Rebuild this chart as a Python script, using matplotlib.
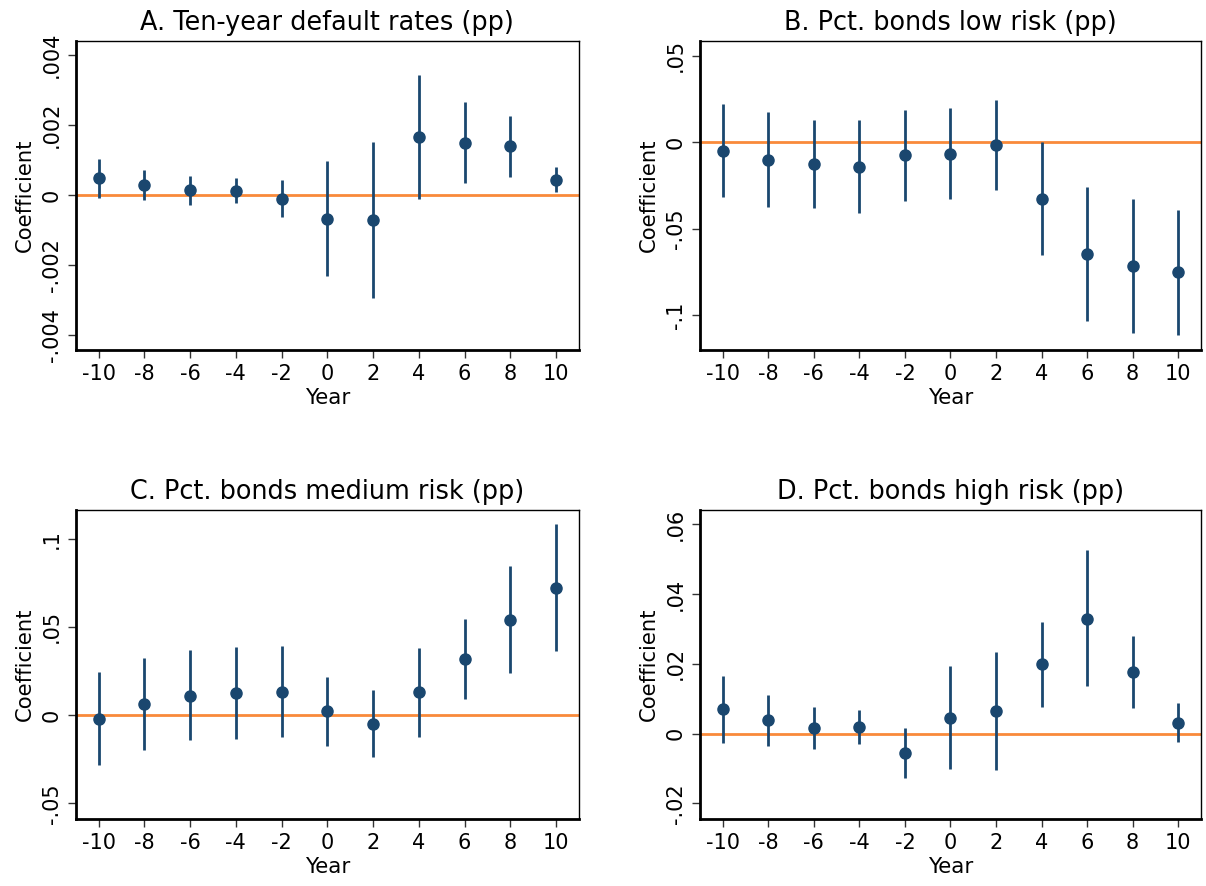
import matplotlib.pyplot as plt

plt.rcParams['font.family'] = ['DejaVu Sans']

annees = [-10, -8, -6, -4, -2, 0, 2, 4, 6, 8, 10]

# A. Ten-year default rates
coef_a = [0.00048, 0.00029, 0.00014, 0.00013, -0.00011, -0.00069, -0.00071, 0.00167, 0.00150, 0.00140, 0.00044]
haut_a = [0.00104, 0.00072, 0.00055, 0.00049, 0.00042, 0.00097, 0.00151, 0.00344, 0.00267, 0.00227, 0.00080]
bas_a = [-0.00007, -0.00014, -0.00028, -0.00022, -0.00064, -0.00232, -0.00295, -0.00011, 0.00034, 0.00053, 0.00010]

# B. low risk
coef_b = [-0.0050, -0.0100, -0.0127, -0.0143, -0.0075, -0.0066, -0.0015, -0.0328, -0.0647, -0.0717, -0.0753]
haut_b = [0.0220, 0.0173, 0.0131, 0.0131, 0.0189, 0.0200, 0.0247, 0.0000, -0.0258, -0.0328, -0.0391]
bas_b = [-0.0318, -0.0374, -0.0383, -0.0412, -0.0339, -0.0331, -0.0277, -0.0655, -0.1035, -0.1104, -0.1114]

# C. medium risk
coef_c = [-0.0019, 0.0062, 0.0111, 0.0124, 0.0134, 0.0021, -0.0049, 0.0130, 0.0316, 0.0539, 0.0723]
haut_c = [0.0245, 0.0326, 0.0367, 0.0386, 0.0394, 0.0217, 0.0143, 0.0379, 0.0542, 0.0842, 0.1081]
bas_c = [-0.0282, -0.0200, -0.0143, -0.0137, -0.0126, -0.0173, -0.0237, -0.0121, 0.0092, 0.0241, 0.0365]

# D. high risk
coef_d = [0.0069, 0.0038, 0.0017, 0.0019, -0.0056, 0.0046, 0.0064, 0.0198, 0.0329, 0.0177, 0.0031]
haut_d = [0.0164, 0.0110, 0.0076, 0.0068, 0.0016, 0.0194, 0.0235, 0.0319, 0.0526, 0.0281, 0.0087]
bas_d = [-0.0027, -0.0036, -0.0044, -0.0031, -0.0128, -0.0103, -0.0105, 0.0077, 0.0135, 0.0073, -0.0025]

titres = ['A. Ten-year default rates (pp)', 'B. Pct. bonds low risk (pp)',
          'C. Pct. bonds medium risk (pp)', 'D. Pct. bonds high risk (pp)']
yticks_a = [-0.004, -0.002, 0, 0.002, 0.004]
ylabels_a = ['-.004', '-.002', '0', '.002', '.004']
yticks_b = [-0.1, -0.05, 0, 0.05]
ylabels_b = ['-.1', '-.05', '0', '.05']
yticks_c = [-0.05, 0, 0.05, 0.1]
ylabels_c = ['-.05', '0', '.05', '.1']
yticks_d = [-0.02, 0, 0.02, 0.04, 0.06]
ylabels_d = ['-.02', '0', '.02', '.04', '.06']

bleu = '#1a476f'
orange = '#f98a3a'

# position des axes (gauche, bas, largeur, hauteur) en fraction de la figure
panneaux = [
    (coef_a, haut_a, bas_a, yticks_a, ylabels_a, (-0.00443, 0.0044), [0.0628, 0.605, 0.4173, 0.3484]),
    (coef_b, haut_b, bas_b, yticks_b, ylabels_b, (-0.1202, 0.0584), [0.5804, 0.605, 0.4154, 0.3484]),
    (coef_c, haut_c, bas_c, yticks_c, ylabels_c, (-0.0586, 0.1164), [0.0628, 0.076, 0.4173, 0.3488]),
    (coef_d, haut_d, bas_d, yticks_d, ylabels_d, (-0.0244, 0.0642), [0.5804, 0.076, 0.4154, 0.3488]),
]

fig = plt.figure(figsize=(12.06, 8.86), dpi=100)

for i, (coef, haut, bas, yt, yl, lims, pos) in enumerate(panneaux):
    ax = fig.add_axes(pos)
    ax.axhline(0, color=orange, lw=2, zorder=1)
    ax.vlines(annees, bas, haut, color=bleu, lw=2, zorder=2)
    ax.plot(annees, coef, 'o', color=bleu, ms=8, zorder=3)
    ax.set_xlim(-11, 11)
    ax.set_ylim(*lims)
    ax.set_xticks(annees)
    ax.set_xticklabels([str(a) for a in annees])
    ax.set_yticks(yt)
    ax.set_yticklabels(yl, rotation=90, va='center')
    ax.tick_params(labelsize=15, length=6, width=1, color='#333333', pad=4)
    ax.set_title(titres[i], fontsize=18.4, pad=8)
    ax.set_xlabel('Year', fontsize=15.4, labelpad=3)
    ax.set_ylabel('Coefficient', fontsize=15.2, labelpad=5)
    ax.spines['left'].set_linewidth(2)
    ax.spines['bottom'].set_linewidth(2)
    ax.spines['top'].set_linewidth(1)
    ax.spines['right'].set_linewidth(1)

fig.savefig('out.png', dpi=100)
